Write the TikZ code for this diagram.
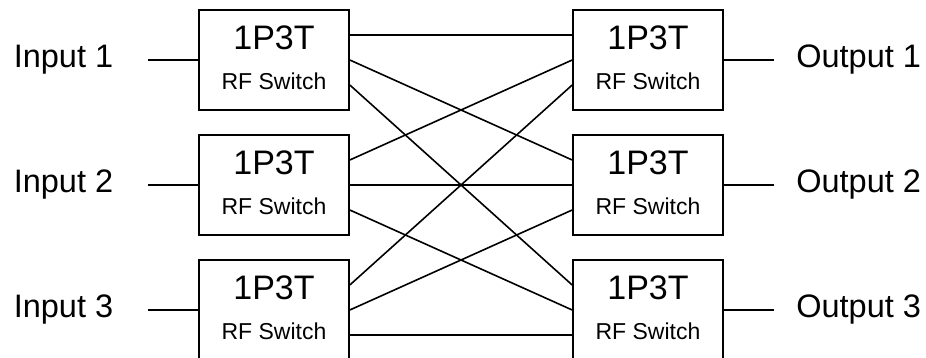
\documentclass[tikz,border=0pt]{standalone}
\usepackage{fontspec}
\setmainfont{Liberation Sans}
\usetikzlibrary{positioning}

\begin{document}
\begin{tikzpicture}[x=1pt,y=-1pt,line width=1.6pt,
    switch/.style={draw,minimum width=150pt,minimum height=100pt,inner sep=0pt},
    big/.style={font=\fontsize{34}{40}\selectfont,inner sep=0pt},
    port/.style={font=\fontsize{32.5}{38}\selectfont,inner sep=0pt},
    small/.style={font=\fontsize{23}{28}\selectfont,inner sep=0pt}]
  \useasboundingbox (0,0) rectangle (926,358);
  % switches, labels and the outer lines
  \foreach \i/\y in {1/60,2/185,3/310}{
    \node[switch] (L\i) at (274,\y) {};
    \node[switch] (R\i) at (648,\y) {};
    \node[big,anchor=base] (tl\i) at ([yshift=-40pt]L\i.north) {1P3T};
    \node[small,anchor=base] (sl\i) at ([yshift=-80pt]L\i.north) {RF Switch};
    \node[big,anchor=base] (tr\i) at ([yshift=-40pt]R\i.north) {1P3T};
    \node[small,anchor=base] (sr\i) at ([yshift=-80pt]R\i.north) {RF Switch};
    \coordinate (a\i) at (148,\y);
    \coordinate (b\i) at (774,\y);
    \node[port,left=34pt of a\i] (in\i) {Input \i};
    \node[port,right=21.5pt of b\i] (out\i) {Output \i};
    \draw (a\i) -- (L\i.west);
    \draw (R\i.east) -- (b\i);
  }
  % crossing lines: port j of left i to port i of right j
  \foreach \i in {1,2,3}{
    \foreach \j in {1,2,3}{
      \pgfmathsetmacro\pa{(2-\j)*25}
      \pgfmathsetmacro\pb{(2-\i)*25}
      \draw ([yshift=\pa pt]L\i.east) -- ([yshift=\pb pt]R\j.west);
    }
  }
\end{tikzpicture}
\end{document}
